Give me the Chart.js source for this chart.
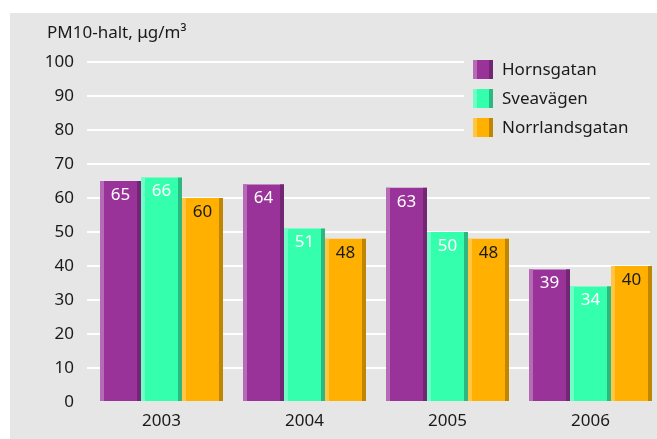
<!DOCTYPE html>
<html>
<head>
<meta charset="utf-8">
<script src="https://cdn.jsdelivr.net/npm/chart.js@4/dist/chart.umd.min.js"></script>
<style>
html,body{margin:0;padding:0;background:#ffffff;overflow:hidden;}
#wrap{width:657px;height:439px;position:relative;}
</style>
</head>
<body>
<div id="wrap"><canvas id="c" width="657" height="439"></canvas></div>
<script>
const years = [2003, 2004, 2005, 2006];
const hornsgatan = [65, 64, 63, 39];
const sveavagen = [66, 51, 50, 34];
const norrlandsgatan = [60, 48, 48, 40];
const seriesNames = ['Hornsgatan', 'Sveavägen', 'Norrlandsgatan'];
const yTicks = [0, 10, 20, 30, 40, 50, 60, 70, 80, 90, 100];
const axisTitle = 'PM10-halt, μg/m³';

const FONT = '"Noto Sans", sans-serif';
const main = ['#993399', '#33ffad', '#ffb000'];
const light = ['#b56bb5', '#6dffc6', '#ffc646'];
const dark = ['#732673', '#2db882', '#c08600'];
const labelColor = ['#ffffff', '#ffffff', '#1a1a1a'];

function pts(arr){ return arr.map((v,i)=>({x: years[i], y: v})); }

const decor = {
  id: 'decor',
  beforeDraw(chart){
    const ctx = chart.ctx;
    ctx.save();
    ctx.fillStyle = '#e6e6e6';
    ctx.fillRect(10, 13, chart.width - 10, chart.height - 13);
    ctx.restore();
  },
  afterDatasetsDraw(chart){
    const ctx = chart.ctx;
    ctx.save();
    chart.data.datasets.forEach((ds, di) => {
      const meta = chart.getDatasetMeta(di);
      meta.data.forEach((el, i) => {
        const p = el.getProps(['x','y','base','width'], true);
        const left = p.x - p.width/2, right = p.x + p.width/2;
        const h = p.base - p.y;
        ctx.fillStyle = light[di];
        ctx.fillRect(left, p.y, 4, h);
        ctx.fillStyle = dark[di];
        ctx.fillRect(right - 4, p.y, 4, h);
        ctx.fillStyle = labelColor[di];
        ctx.font = '17px ' + FONT;
        ctx.textAlign = 'center';
        ctx.textBaseline = 'middle';
        ctx.fillText(String(ds.data[i].y), p.x, p.y + 14);
      });
    });
    ctx.restore();
  },
  afterDraw(chart){
    const ctx = chart.ctx;
    ctx.save();
    ctx.fillStyle = '#1a1a1a';
    ctx.font = '17px ' + FONT;
    ctx.textAlign = 'left';
    ctx.textBaseline = 'middle';
    ctx.fillText(axisTitle, 47, 33);
    ctx.fillStyle = '#e6e6e6';
    ctx.fillRect(464, 50, chart.width - 464, 100);
    chart.data.datasets.forEach((ds, di) => {
      const top = 60 + di * 29;
      ctx.fillStyle = main[di];
      ctx.fillRect(473, top, 20, 19);
      ctx.fillStyle = light[di];
      ctx.fillRect(473, top, 4, 19);
      ctx.fillStyle = dark[di];
      ctx.fillRect(489, top, 4, 19);
      ctx.fillStyle = '#1a1a1a';
      ctx.font = '17px ' + FONT;
      ctx.textAlign = 'left';
      ctx.textBaseline = 'middle';
      ctx.fillText(ds.label, 502, top + 10);
    });
    ctx.restore();
  }
};

const xmin = 2003 - 74.5/143;
const xmax = 2003 + (650 - 161.5)/143;

new Chart(document.getElementById('c'), {
  type: 'bar',
  data: {
    datasets: [
      {label: seriesNames[0], data: pts(hornsgatan), backgroundColor: main[0]},
      {label: seriesNames[1], data: pts(sveavagen), backgroundColor: main[1]},
      {label: seriesNames[2], data: pts(norrlandsgatan), backgroundColor: main[2]}
    ]
  },
  options: {
    responsive: false,
    animation: false,
    devicePixelRatio: 1,
    categoryPercentage: 0.86,
    barPercentage: 1.0,
    layout: {padding: {top: 62, right: 7, left: 0, bottom: 0}},
    plugins: {legend: {display: false}, tooltip: {enabled: false}},
    scales: {
      x: {
        type: 'linear',
        offset: false,
        min: xmin,
        max: xmax,
        afterBuildTicks(s){ s.ticks = years.map(v => ({value: v})); },
        afterFit(s){ s.height = 37; },
        grid: {display: false, drawTicks: false, offset: false},
        border: {display: false},
        ticks: {
          padding: 9,
          color: '#1a1a1a',
          font: {family: FONT, size: 17},
          callback: (v) => String(v)
        }
      },
      y: {
        min: 0,
        max: 100,
        afterBuildTicks(s){ s.ticks = yTicks.map(v => ({value: v})); },
        afterFit(s){ s.width = 87; },
        grid: {
          color: (c) => (c.tick && c.tick.value === 0) ? 'rgba(0,0,0,0)' : '#ffffff',
          lineWidth: 2,
          drawTicks: false
        },
        border: {display: false},
        ticks: {
          padding: 13,
          color: '#1a1a1a',
          font: {family: FONT, size: 17}
        }
      }
    }
  },
  plugins: [decor]
});
</script>
</body>
</html>
